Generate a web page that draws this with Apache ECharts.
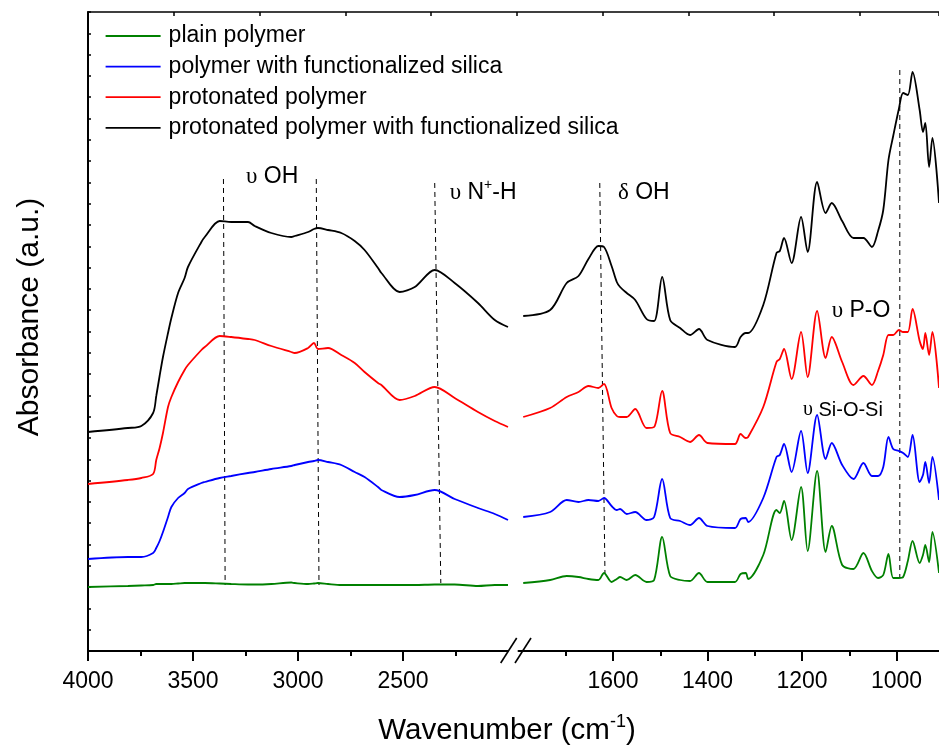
<!DOCTYPE html>
<html>
<head>
<meta charset="utf-8">
<script src="https://cdn.jsdelivr.net/npm/echarts@6/dist/echarts.min.js"></script>
<style>
  html, body { margin: 0; padding: 0; background: #fff; }
  #ftirChart { width: 939px; height: 753px; }
</style>
</head>
<body>
<div id="ftirChart"></div>
<script>
// wavenumbers (cm-1) left of the axis break
const leftWn = [4000, 3810, 3746, 3690, 3675, 3659, 3643, 3619, 3603, 3571, 3540, 3524, 3460, 3444, 3373, 3318, 3238, 3206, 3127, 3032, 3016, 2952, 2924, 2905, 2857, 2794, 2730, 2683, 2619, 2603, 2516, 2444, 2349, 2254, 2143, 2063, 2000]
// wavenumbers right of the break
const rightWn = [1790, 1733, 1698, 1673, 1652, 1631, 1619, 1603, 1592, 1585, 1571, 1553, 1529, 1513, 1496, 1479, 1458, 1437, 1418, 1400, 1342, 1330, 1319, 1314, 1282, 1254, 1247, 1238, 1222, 1202, 1188, 1168, 1150, 1137, 1115, 1091, 1070, 1052, 1039, 1028, 1017, 1007, 995, 986, 976, 966, 951, 944, 939, 931, 924, 910]

// absorbance (a.u., offset spectra)
const plainLeft = [6.4, 6.5, 6.55, 6.6, 6.7, 6.7, 6.7, 6.7, 6.7, 6.75, 6.8, 6.8, 6.8, 6.8, 6.75, 6.7, 6.65, 6.65, 6.7, 6.85, 6.8, 6.7, 6.75, 6.8, 6.7, 6.6, 6.6, 6.6, 6.6, 6.6, 6.6, 6.6, 6.65, 6.65, 6.5, 6.6, 6.6]
const silicaLeft = [9.2, 9.4, 9.4, 9.8, 10.3, 11.0, 11.9, 13.4, 14.4, 15.3, 15.8, 16.2, 16.8, 16.9, 17.3, 17.5, 17.8, 17.9, 18.2, 18.5, 18.6, 18.9, 19.0, 19.1, 18.9, 18.6, 17.9, 17.4, 16.4, 16.1, 15.4, 15.6, 16.1, 15.2, 14.3, 13.7, 13.1]
const protLeft = [16.7, 17.1, 17.3, 17.7, 19.1, 20.3, 21.8, 24.4, 25.4, 26.9, 28.1, 28.6, 30.1, 30.4, 31.5, 31.4, 31.2, 31.1, 30.5, 29.9, 29.8, 30.3, 30.8, 30.2, 30.3, 29.6, 28.8, 27.9, 26.8, 26.6, 25.1, 25.5, 26.4, 25.3, 23.9, 23.0, 22.4]
const protSilicaLeft = [21.9, 22.3, 22.5, 23.8, 25.5, 27.5, 29.4, 31.8, 33.3, 35.8, 37.3, 38.4, 40.9, 41.4, 43.0, 42.9, 42.9, 42.5, 41.8, 41.4, 41.5, 41.9, 42.2, 42.3, 42.1, 41.8, 41.0, 40.1, 38.3, 37.8, 35.9, 36.4, 38.1, 36.8, 34.8, 33.1, 32.4]

const plainRight = [6.8, 7.1, 7.5, 7.4, 7.2, 7.1, 7.8, 6.9, 7.2, 7.4, 7.1, 7.6, 6.9, 7.1, 11.4, 7.5, 7.1, 7.0, 7.8, 6.9, 6.9, 7.7, 7.8, 7.2, 9.6, 14.1, 13.8, 15.0, 11.1, 16.4, 10.0, 18.0, 9.9, 12.5, 8.6, 8.2, 9.8, 8.0, 7.3, 7.6, 9.7, 7.3, 7.3, 7.4, 9.0, 11.0, 8.8, 9.6, 10.6, 8.9, 11.9, 7.8]
const silicaRight = [13.4, 13.9, 15.1, 14.9, 15.1, 15.0, 15.3, 14.5, 14.1, 14.2, 13.7, 13.9, 13.1, 13.4, 17.2, 13.3, 13.0, 12.6, 13.3, 12.5, 12.3, 13.2, 13.3, 12.9, 15.3, 19.4, 19.6, 20.7, 17.9, 22.0, 17.8, 23.6, 19.2, 20.8, 18.6, 17.2, 18.8, 17.5, 17.5, 18.4, 21.4, 20.2, 20.0, 19.8, 19.4, 21.6, 16.9, 17.6, 18.9, 16.8, 19.4, 15.1]
const protRight = [23.4, 24.3, 25.4, 25.9, 26.5, 26.3, 26.7, 24.3, 23.5, 23.4, 23.4, 24.2, 22.3, 22.4, 26.0, 21.8, 21.4, 20.9, 21.6, 20.8, 20.7, 21.7, 21.3, 21.4, 24.4, 28.9, 29.2, 30.2, 27.2, 31.9, 27.4, 34.0, 29.3, 31.4, 28.9, 26.6, 27.5, 26.6, 28.0, 29.6, 31.6, 31.6, 32.1, 31.9, 31.9, 34.2, 31.0, 30.2, 31.8, 29.6, 31.9, 26.3]
const protSilicaRight = [33.5, 34.1, 36.8, 37.5, 39.2, 40.5, 40.4, 38.5, 36.9, 36.4, 35.8, 35.1, 33.2, 33.0, 37.4, 33.1, 32.3, 31.6, 32.2, 31.1, 30.4, 31.4, 31.8, 31.8, 34.6, 39.8, 40.0, 41.3, 38.8, 43.4, 39.9, 46.9, 43.8, 44.8, 43.0, 41.3, 41.3, 40.4, 42.0, 44.1, 49.1, 51.5, 54.2, 55.8, 55.6, 57.9, 54.1, 51.9, 52.8, 48.4, 51.3, 44.8]

const seriesNames = ['plain polymer', 'polymer with functionalized silica', 'protonated polymer', 'protonated polymer with functionalized silica']
const seriesColors = ['#008000', '#0000ff', '#ff0000', '#000000']

// dashed guide lines: [wn top, value top, wn bottom, value bottom]
const leftGuides = [[3355, 47.2, 3347, 6.6], [2913, 47.2, 2900, 6.6], [2349, 46.8, 2320, 6.8]]
const rightGuides = [[1628, 46.8, 1617, 7.8], [993, 58.1, 993, 7.3]]

const leftTicks = [4000, 3500, 3000, 2500]
const rightTicks = [1600, 1400, 1200, 1000]

const chart = echarts.init(document.getElementById('ftirChart'))

const leftSets = [plainLeft, silicaLeft, protLeft, protSilicaLeft]
const rightSets = [plainRight, silicaRight, protRight, protSilicaRight]

const series = []
seriesNames.forEach((name, k) => {
  series.push({
    name: name,
    type: 'line',
    xAxisIndex: 0,
    yAxisIndex: 0,
    symbol: 'none',
    smooth: 0.3,
    lineStyle: { color: seriesColors[k], width: 1.8 },
    itemStyle: { color: seriesColors[k] },
    data: leftWn.map((w, i) => [w, leftSets[k][i]]),
  })
  series.push({
    name: name,
    type: 'line',
    xAxisIndex: 1,
    yAxisIndex: 1,
    symbol: 'none',
    smooth: 0.3,
    lineStyle: { color: seriesColors[k], width: 1.8 },
    itemStyle: { color: seriesColors[k] },
    data: rightWn.map((w, i) => [w, rightSets[k][i]]),
  })
})
leftGuides.concat(rightGuides).forEach((g, i) => {
  const inLeft = i < leftGuides.length
  series.push({
    type: 'line',
    xAxisIndex: inLeft ? 0 : 1,
    yAxisIndex: inLeft ? 0 : 1,
    symbol: 'none',
    silent: true,
    z: 1,
    lineStyle: { color: '#000', width: 1, type: [5, 4] },
    data: [[g[0], g[1]], [g[2], g[3]]],
  })
})
// empty series so the frame grid gets its top axis
series.push({ type: 'line', xAxisIndex: 2, yAxisIndex: 2, symbol: 'none', silent: true, data: [] })

const axisFont = { color: '#000', fontSize: 23, fontFamily: 'Liberation Sans', formatter: (v) => String(v) }
const xAxisCommon = {
  type: 'value',
  inverse: true,
  axisLine: { show: true, lineStyle: { color: '#000', width: 2 } },
  axisTick: { show: true, inside: false, length: 10, lineStyle: { color: '#000', width: 2 } },
  minorTick: { show: true, splitNumber: 2, length: 5, lineStyle: { color: '#000', width: 2 } },
  splitLine: { show: false },
  minorSplitLine: { show: false },
}

const option = {
  backgroundColor: '#fff',
  animation: false,
  grid: [
    { left: 88, top: 12, width: 420, height: 639, outerBoundsMode: 'none' },
    { left: 518.5, top: 12, width: 472.5, height: 639, outerBoundsMode: 'none' },
    { left: 88, top: 12, width: 851, height: 639, outerBoundsMode: 'none' },
  ],
  legend: {
    data: seriesNames,
    orient: 'vertical',
    left: 104.7,
    top: 20.7,
    padding: 0,
    itemGap: 0,
    itemWidth: 55,
    itemHeight: 14,
    itemStyle: { opacity: 0, borderWidth: 0 },
    lineStyle: { width: 1.8 },
    textStyle: { color: '#000', fontSize: 23, fontFamily: 'Liberation Sans', lineHeight: 30.6, padding: [0, 0, 0, 3] },
    selectedMode: false,
  },
  xAxis: [
    Object.assign({}, xAxisCommon, {
      gridIndex: 0, min: 2000, max: 4000, interval: 500,
      axisTick: Object.assign({}, xAxisCommon.axisTick, { customValues: leftTicks }),
      axisLabel: Object.assign({ margin: 19, customValues: leftTicks }, axisFont),
    }),
    Object.assign({}, xAxisCommon, {
      gridIndex: 1, min: 800, max: 1800, interval: 200,
      axisTick: Object.assign({}, xAxisCommon.axisTick, { customValues: rightTicks }),
      axisLabel: Object.assign({ margin: 19, customValues: rightTicks }, axisFont),
    }),
    {
      type: 'value', gridIndex: 2, position: 'top', min: 0, max: 9.924, interval: 1,
      axisLine: { show: true, onZero: false, lineStyle: { color: '#000', width: 1.5 } },
      axisTick: { show: true, inside: true, length: 4, lineStyle: { color: '#000', width: 1.5 } },
      axisLabel: { show: false },
      splitLine: { show: false },
    },
  ],
  yAxis: [
    {
      type: 'value', gridIndex: 0, min: 0, max: 63.9, interval: 2.13,
      axisLine: { show: true, lineStyle: { color: '#000', width: 2 } },
      axisTick: { show: true, inside: true, length: 3, lineStyle: { color: '#000', width: 1.5 } },
      axisLabel: { show: false },
      splitLine: { show: false },
    },
    { type: 'value', gridIndex: 1, min: 0, max: 63.9, show: false, splitLine: { show: false } },
    { type: 'value', gridIndex: 2, min: 0, max: 63.9, show: false, splitLine: { show: false } },
  ],
  graphic: [
    // axis break marks
    { type: 'line', shape: { x1: 500.7, y1: 663, x2: 516.7, y2: 638 }, style: { stroke: '#000', lineWidth: 1.6 }, z: 100 },
    { type: 'line', shape: { x1: 515, y1: 663, x2: 531, y2: 638 }, style: { stroke: '#000', lineWidth: 1.6 }, z: 100 },
    {
      type: 'text', x: 30, y: 317, rotation: Math.PI / 2,
      style: { text: 'Absorbance (a.u.)', fill: '#000', font: '30px "Liberation Sans"', textAlign: 'center', textVerticalAlign: 'middle' },
    },
    {
      type: 'text', x: 507, y: 731,
      style: {
        text: '{t|Wavenumber (cm}{s|-1}{t|)}', fill: '#000', textAlign: 'center', textVerticalAlign: 'middle',
        rich: {
          t: { fontSize: 29.5, fontFamily: 'Liberation Sans', lineHeight: 36, fill: '#000' },
          s: { fontSize: 18, fontFamily: 'Liberation Sans', lineHeight: 17, verticalAlign: 'top', fill: '#000' },
        },
      },
    },
    {
      type: 'text', x: 246, y: 177,
      style: {
        text: '{g|υ}{t| OH}', textVerticalAlign: 'middle',
        rich: { g: { fontSize: 23, fontFamily: 'Liberation Serif', fill: '#000' }, t: { fontSize: 23, fontFamily: 'Liberation Sans', fill: '#000' } },
      },
    },
    {
      type: 'text', x: 449.7, y: 193,
      style: {
        text: '{g|υ}{t| N}{s|+}{t|-H}', textVerticalAlign: 'middle',
        rich: {
          g: { fontSize: 23, fontFamily: 'Liberation Serif', lineHeight: 30, fill: '#000' },
          t: { fontSize: 23, fontFamily: 'Liberation Sans', lineHeight: 30, fill: '#000' },
          s: { fontSize: 14, fontFamily: 'Liberation Sans', lineHeight: 14, verticalAlign: 'top', fill: '#000' },
        },
      },
    },
    {
      type: 'text', x: 618, y: 193,
      style: {
        text: '{g|δ}{t| OH}', textVerticalAlign: 'middle',
        rich: { g: { fontSize: 23, fontFamily: 'Liberation Serif', fill: '#000' }, t: { fontSize: 23, fontFamily: 'Liberation Sans', fill: '#000' } },
      },
    },
    {
      type: 'text', x: 831.7, y: 311,
      style: {
        text: '{g|υ}{t| P-O}', textVerticalAlign: 'middle',
        rich: { g: { fontSize: 23, fontFamily: 'Liberation Serif', fill: '#000' }, t: { fontSize: 23, fontFamily: 'Liberation Sans', fill: '#000' } },
      },
    },
    {
      type: 'text', x: 803, y: 410,
      style: {
        text: '{g|υ}{t| Si-O-Si}', textVerticalAlign: 'middle',
        rich: { g: { fontSize: 20, fontFamily: 'Liberation Serif', fill: '#000' }, t: { fontSize: 20, fontFamily: 'Liberation Sans', fill: '#000' } },
      },
    },
  ],
  series: series,
}

chart.setOption(option)
</script>
</body>
</html>
